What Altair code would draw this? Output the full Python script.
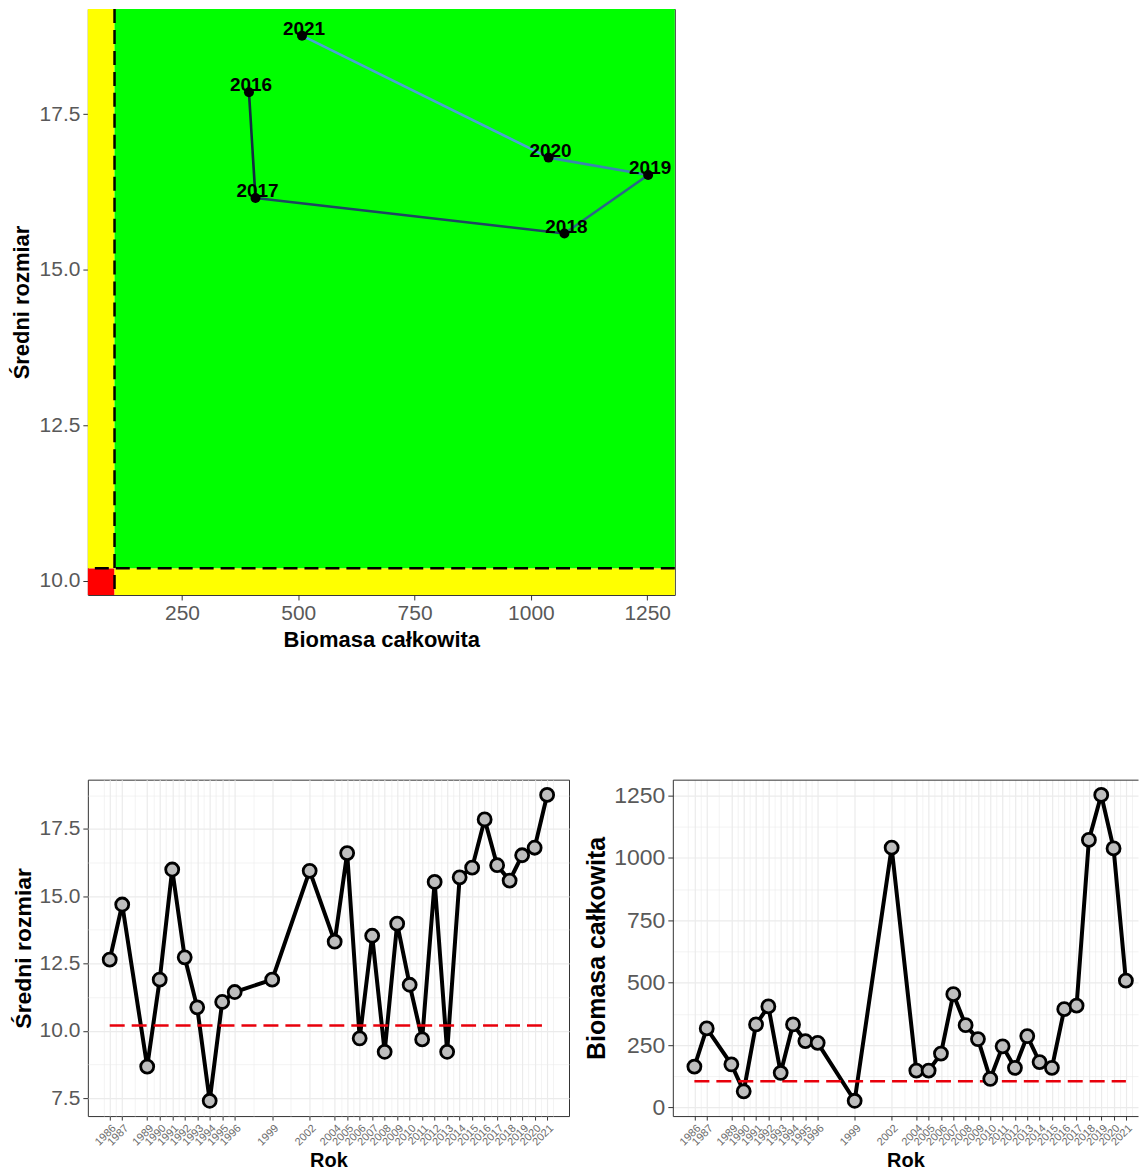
import altair as alt
import pandas as pd

FONT = "Liberation Sans"

# Survey years and the two indicators per year
years = [1986, 1987, 1989, 1990, 1991, 1992, 1993, 1994, 1995, 1996, 1999, 2002,
         2004, 2005, 2006, 2007, 2008, 2009, 2010, 2011, 2012, 2013, 2014, 2015,
         2016, 2017, 2018, 2019, 2020, 2021]
mean_size = [12.64, 14.69, 8.67, 11.90, 15.99, 12.73, 10.87, 7.40, 11.07, 11.44,
             11.90, 15.94, 13.31, 16.60, 9.72, 13.53, 9.22, 13.98, 11.71, 9.68,
             15.53, 9.22, 15.70, 16.06, 17.85, 16.15, 15.58, 16.52, 16.80, 18.76]
biomass = [164, 317, 173, 65, 333, 405, 139, 333, 266, 259,
           27, 1041, 148, 148, 216, 454, 330, 274, 115, 245,
           159, 286, 182, 159, 394, 408, 1072, 1252, 1038, 508]

# Reference levels
size_ref = 10.2
biomass_ref = 105

# Last six seasons shown on the phase plot
phase_years = years[-6:]
phase_size = mean_size[-6:]
phase_biomass = biomass[-6:]
path_colors = ["#132B43", "#1F4562", "#2B6688", "#3A86AE", "#4AA3D6"]


def padded(lo, hi, frac=0.05):
    span = hi - lo
    return [lo - frac * span, hi + frac * span]


series = pd.DataFrame({"year": years, "size": mean_size, "biomass": biomass})
phase = pd.DataFrame({"year": phase_years, "size": phase_size, "biomass": phase_biomass})
steps = pd.DataFrame({
    "year": phase_years[:-1],
    "biomass": phase_biomass[:-1],
    "size": phase_size[:-1],
    "biomass_next": phase_biomass[1:],
    "size_next": phase_size[1:],
})
refs = pd.DataFrame({"biomass": [biomass_ref], "size": [size_ref],
                     "year": [years[0]], "year_end": [years[-1]]})

LABEL_GREY = "#595959"
TICK_GREY = "#333333"

# ---------------- phase plot: biomass vs mean size ----------------
W1, H1 = 588, 587

bx = alt.X("biomass:Q",
           scale=alt.Scale(domain=padded(biomass_ref, max(phase_biomass)), nice=False, zero=False),
           axis=alt.Axis(values=[250, 500, 750, 1000, 1250], format="d", title="Biomasa całkowita",
                         grid=False, domain=False, tickSize=5, tickColor=TICK_GREY,
                         labelFontSize=21, labelColor=LABEL_GREY, labelPadding=3,
                         titleFontSize=22, titlePadding=6, labelFlush=False))
sy = alt.Y("size:Q",
           scale=alt.Scale(domain=padded(size_ref, max(phase_size)), nice=False, zero=False),
           axis=alt.Axis(values=[10, 12.5, 15, 17.5], format=".1f", title="Średni rozmiar",
                         grid=False, domain=False, tickSize=5, tickColor=TICK_GREY,
                         labelFontSize=21, labelColor=LABEL_GREY, labelPadding=3,
                         titleFontSize=22, titlePadding=6, labelFlush=False))

base = alt.Chart(refs)
red_zone = base.mark_rect(color="#FF0000").encode(x=bx, x2=alt.value(0), y=sy, y2=alt.value(H1))
yellow_low = base.mark_rect(color="#FFFF00").encode(x=bx, x2=alt.value(W1), y=sy, y2=alt.value(H1))
yellow_left = base.mark_rect(color="#FFFF00").encode(x=bx, x2=alt.value(0), y=sy, y2=alt.value(0))
green_zone = base.mark_rect(color="#00FF00").encode(x=bx, x2=alt.value(W1), y=sy, y2=alt.value(0))
vline = base.mark_rule(color="black", strokeWidth=2.5, strokeDash=[14, 7]).encode(x=bx)
hline = base.mark_rule(color="black", strokeWidth=2.5, strokeDash=[14, 7]).encode(y=sy)

path = alt.Chart(steps).mark_rule(strokeWidth=2.6).encode(
    x=bx, y=sy, x2="biomass_next:Q", y2="size_next:Q",
    color=alt.Color("year:O", scale=alt.Scale(domain=phase_years[:-1], range=path_colors), legend=None),
)
dots = alt.Chart(phase).mark_circle(size=100, color="black", opacity=1).encode(x=bx, y=sy)
year_labels = alt.Chart(phase).mark_text(
    font=FONT, fontSize=19, fontWeight="bold", color="black",
    baseline="alphabetic", dx=2, dy=-1,
).encode(x=bx, y=sy, text="year:N")

phase_plot = alt.layer(
    red_zone, yellow_low, yellow_left, green_zone, vline, hline, path, dots, year_labels
).properties(width=W1, height=H1, view=alt.ViewBackground(stroke=TICK_GREY))

# ---------------- time series ----------------
W2, H2 = 482, 337
W3 = 466
PX_PER_YEAR_BIO = 12.35

year_list = "[" + ",".join(str(y) for y in years) + "]"
is_year = f"indexof({year_list}, datum.value) >= 0"
minor_years = [(a + b) / 2 for a, b in zip(years[:-1], years[1:])]
x_values = sorted(years + minor_years + [years[0] - 0.5, years[-1] + 0.5])

year_domain = padded(years[0], years[-1])


def year_axis(**extra):
    return alt.Axis(
        values=x_values, labelExpr=f"{is_year} ? datum.value : ''",
        title="Rok", titleFontSize=20, titlePadding=3,
        labelAngle=-45, labelAlign="right", labelBaseline="top",
        labelFontSize=11, labelColor="#6b6b6b", labelOverlap=False, labelFlush=False,
        labelPadding=2, tickSize=4, tickColor=TICK_GREY,
        tickOpacity={"condition": {"test": is_year, "value": 1}, "value": 0},
        gridColor="#EBEBEB",
        gridWidth={"condition": {"test": is_year, "value": 1.2}, "value": 0.6},
        **extra,
    )


def value_axis(values, major_step, fmt, title, title_size, label_size, **extra):
    test = f"abs(datum.value / {major_step} - round(datum.value / {major_step})) < 1e-6"
    return alt.Axis(
        values=values, format=fmt, labelExpr=f"{test} ? datum.label : ''",
        title=title, titleFontSize=title_size, titlePadding=4,
        labelFontSize=label_size, labelColor=LABEL_GREY, labelPadding=3, labelFlush=False,
        tickSize=5, tickColor=TICK_GREY,
        tickOpacity={"condition": {"test": test, "value": 1}, "value": 0},
        gridColor="#EBEBEB",
        gridWidth={"condition": {"test": test, "value": 1.2}, "value": 0.6},
        **extra,
    )


# Mean size over time
size_x = alt.X("year:Q", scale=alt.Scale(domain=year_domain, nice=False, zero=False),
               axis=year_axis(domain=False))
size_y = alt.Y("size:Q",
               scale=alt.Scale(domain=padded(min(mean_size), max(mean_size)), nice=False, zero=False),
               axis=value_axis([7.5, 8.75, 10, 11.25, 12.5, 13.75, 15, 16.25, 17.5, 18.75],
                               2.5, ".1f", "Średni rozmiar", 23, 21, domain=False))

size_line = alt.Chart(series).mark_line(color="black", strokeWidth=4).encode(x=size_x, y=size_y)
size_ref_line = alt.Chart(refs).mark_rule(color="#E8000B", strokeWidth=2.5, strokeDash=[15, 7]).encode(
    x=size_x, x2="year_end:Q", y=size_y)
size_points = alt.Chart(series).mark_circle(
    size=170, color="#BEBEBE", stroke="black", strokeWidth=2.8, opacity=1
).encode(x=size_x, y=size_y)

size_plot = alt.layer(size_line, size_ref_line, size_points).properties(
    width=W2, height=H2, view=alt.ViewBackground(stroke=TICK_GREY))

# Total biomass over time (right edge of the panel runs off the page)
bio_scale_x = alt.Scale(domain=[year_domain[0], year_domain[0] + W3 / PX_PER_YEAR_BIO],
                        nice=False, zero=False)
bio_x = alt.X("year:Q", scale=bio_scale_x,
              axis=year_axis(domain=True, domainColor=TICK_GREY, domainWidth=1))
bio_y = alt.Y("biomass:Q",
              scale=alt.Scale(domain=padded(min(biomass), max(biomass)), nice=False, zero=False),
              axis=value_axis(list(range(0, 1251, 125)), 250, "d", "Biomasa całkowita", 25, 23,
                              domain=True, domainColor=TICK_GREY, domainWidth=1))
bio_x_top = alt.X("year:Q", scale=bio_scale_x,
                  axis=alt.Axis(orient="top", labels=False, ticks=False, grid=False, title=None,
                                domain=True, domainColor=TICK_GREY, domainWidth=1))

bio_line = alt.Chart(series).mark_line(color="black", strokeWidth=4).encode(x=bio_x, y=bio_y)
bio_ref_line = alt.Chart(refs).mark_rule(color="#E8000B", strokeWidth=2.5, strokeDash=[15, 7]).encode(
    x=alt.X("year:Q", scale=bio_scale_x, axis=None), x2="year_end:Q", y=bio_y)
bio_points = alt.Chart(series).mark_circle(
    size=170, color="#BEBEBE", stroke="black", strokeWidth=2.8, opacity=1
).encode(x=bio_x_top, y=bio_y)

bio_plot = alt.layer(bio_line, bio_ref_line, bio_points).resolve_axis(x="independent").properties(
    width=W3, height=H2, view=alt.ViewBackground(stroke="transparent"))

bottom_row = alt.hconcat(size_plot, bio_plot, spacing=14)

chart = alt.vconcat(phase_plot, bottom_row, spacing=127).properties(
    padding={"left": 9, "top": 6, "right": 0, "bottom": 0}
).configure(
    font=FONT,
).configure_axis(
    labelFont=FONT, titleFont=FONT, titleFontWeight="bold", titleColor="black",
).configure_text(font=FONT)

chart.save("out.html", embed_options={"renderer": "svg", "actions": False})
